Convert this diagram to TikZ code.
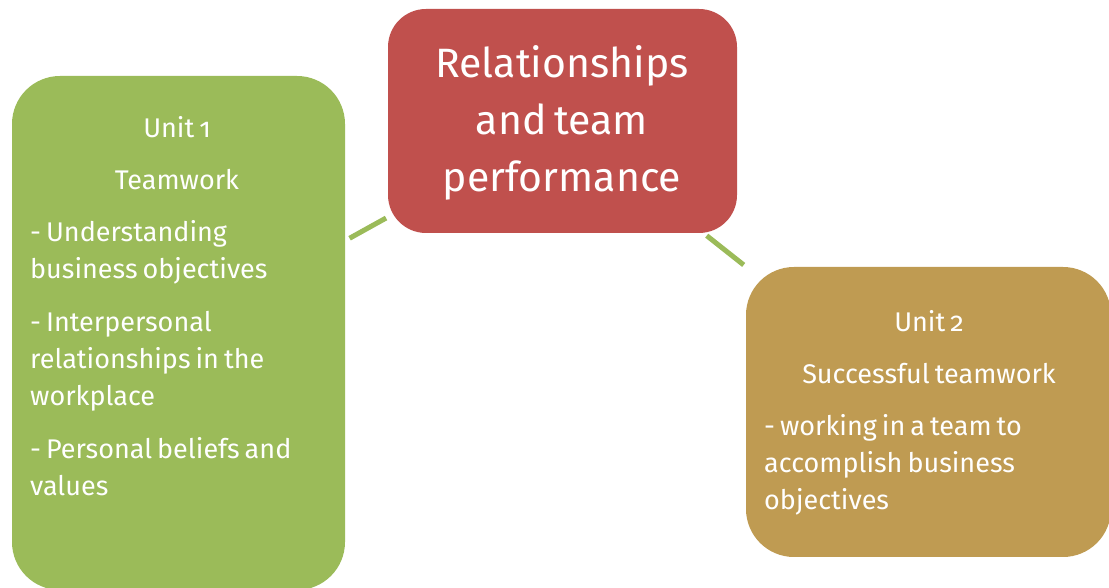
\documentclass[tikz,border=0pt]{standalone}
\usepackage{fontspec}
\setmainfont{Fira Sans}[Numbers=OldStyle,WordSpace=0.7]
\usetikzlibrary{positioning}
\definecolor{unitgreen}{HTML}{9BBB59}
\definecolor{unitred}{HTML}{C0504D}
\definecolor{unitgold}{HTML}{BF9B52}

\begin{document}
\begin{tikzpicture}[x=1pt,y=1pt,
  unitbox/.style={rectangle,rounded corners=48pt,inner sep=0pt},
  link/.style={draw=unitgreen,line width=5pt},
  label/.style={text=white,inner sep=0pt,font=\fontsize{27}{37}\selectfont},
  headline/.style={text=white,inner sep=0pt,align=center,font=\fontsize{41}{57}\selectfont}]

\clip (0,0) rectangle (1109,588);

% the three boxes
\node[unitbox,fill=unitgreen,minimum width=333pt,minimum height=514pt] (unit1) at (178.5,255) {};
\node[unitbox,fill=unitred,rounded corners=38pt,minimum width=349pt,minimum height=224pt] (title) at (562.5,467) {};
\node[unitbox,fill=unitgold,minimum width=365pt,minimum height=290pt] (unit2) at (928.5,176) {};

\draw[link,shorten <=5pt,shorten >=2pt] (unit1) -- (title);
\draw[link,shorten <=4pt,shorten >=3pt] (title) -- (unit2);

% title text
\node[headline,anchor=base] (t1) at (562,510) {Relationships};
\node[headline,anchor=base] (t2) at (562,453) {and team};
\node[headline,anchor=base] (t3) at (562,396) {performance};

% unit 1
\node[label,anchor=base] (u1head) at (177,450) {Unit 1};
\node[label,anchor=base] (u1name) at (177,398) {Teamwork};
\node[label,anchor=base west] (u1a) at (30,346) {- Understanding};
\node[label,anchor=base west] (u1b) at (30,309) {business objectives};
\node[label,anchor=base west] (u1c) at (30,256) {- Interpersonal};
\node[label,anchor=base west] (u1d) at (30,219) {relationships in the};
\node[label,anchor=base west] (u1e) at (30,182) {workplace};
\node[label,anchor=base west] (u1f) at (30,129.5) {- Personal beliefs and};
\node[label,anchor=base west] (u1g) at (30,92) {values};

% unit 2
\node[label,anchor=base] (u2head) at (929,256) {Unit 2};
\node[label,anchor=base] (u2name) at (929,204) {Successful teamwork};
\node[label,anchor=base west] (u2a) at (764,152) {- working in a team to};
\node[label,anchor=base west] (u2b) at (764,115) {accomplish business};
\node[label,anchor=base west] (u2c) at (764,78) {objectives};

\end{tikzpicture}
\end{document}
